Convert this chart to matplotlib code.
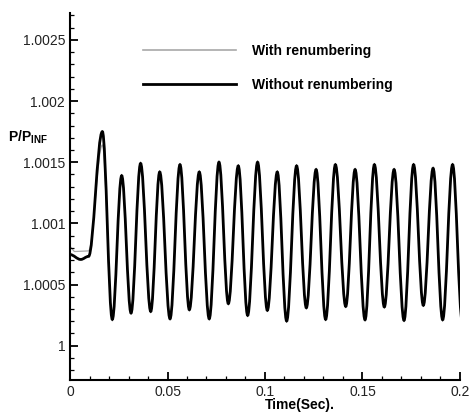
import numpy as np
import matplotlib
matplotlib.use('Agg')
import matplotlib.pyplot as plt
from matplotlib.path import Path
from matplotlib.patches import PathPatch
from matplotlib.lines import Line2D
from matplotlib.ticker import MultipleLocator, FormatStrFormatter

plt.rcParams['font.family'] = ['Liberation Sans', 'DejaVu Sans']
plt.rcParams['mathtext.fontset'] = 'custom'
plt.rcParams['mathtext.bf'] = 'Liberation Sans:bold'
plt.rcParams['mathtext.rm'] = 'Liberation Sans'

# turning points (time, P/Pinf)
t_start_black = [0.0, 0.0055, 0.0095]
p_start_black = [1.000745, 1.000705, 1.000730]
t_start_gray = [0.0, 0.0025, 0.0095]
p_start_gray = [1.000807, 1.000770, 1.000775]

t_osc = [0.0166, 0.0217, 0.0265, 0.0313, 0.0362, 0.0414, 0.0460, 0.0513,
         0.0564, 0.0612, 0.0663, 0.0714, 0.0764, 0.0812, 0.0863, 0.0911,
         0.0962, 0.1012, 0.1063, 0.1111, 0.1162, 0.1212, 0.1262, 0.1311,
         0.1361, 0.1414, 0.1462, 0.1513, 0.1561, 0.1612, 0.1662, 0.1713,
         0.1762, 0.1812, 0.1862, 0.1911, 0.1962, 0.2012]
p_osc_black = [1.00175, 1.000215, 1.00139, 1.000267, 1.00149, 1.000280, 1.00142, 1.000220,
               1.00148, 1.000294, 1.00142, 1.000220, 1.00150, 1.000344, 1.00147, 1.000248,
               1.00150, 1.000289, 1.00142, 1.000202, 1.00147, 1.000310, 1.00144, 1.000215,
               1.00148, 1.000321, 1.00144, 1.000212, 1.00148, 1.000317, 1.00144, 1.000207,
               1.00148, 1.000330, 1.00145, 1.000212, 1.00148, 1.000200]
p_osc_gray = [1.00164, 1.000225, 1.00137, 1.000277, 1.00147, 1.000290, 1.00140, 1.000230,
              1.00146, 1.000304, 1.00140, 1.000230, 1.00148, 1.000354, 1.00145, 1.000258,
              1.00148, 1.000299, 1.00140, 1.000212, 1.00145, 1.000320, 1.00142, 1.000225,
              1.00146, 1.000331, 1.00142, 1.000222, 1.00146, 1.000327, 1.00142, 1.000217,
              1.00146, 1.000340, 1.00143, 1.000222, 1.00146, 1.000210]

labels = ['With renumbering', 'Without renumbering']


def smooth_path(ts, ps):
    # cubic bezier between turning points, flat tangent at each one
    verts = [(ts[0], ps[0])]
    codes = [Path.MOVETO]
    for i in range(1, len(ts)):
        h = ts[i] - ts[i - 1]
        verts += [(ts[i - 1] + 0.363 * h, ps[i - 1]), (ts[i] - 0.363 * h, ps[i]), (ts[i], ps[i])]
        codes += [Path.CURVE4] * 3
    return Path(verts, codes)


fig = plt.figure(figsize=(4.73, 4.13), dpi=100)
ax = fig.add_axes([0.148, 0.080, 0.8245, 0.8886])

gray = PathPatch(smooth_path(t_start_gray + t_osc, p_start_gray + p_osc_gray),
                 facecolor='none', edgecolor='#a8a8a8', lw=0.9)
black = PathPatch(smooth_path(t_start_black + t_osc, p_start_black + p_osc_black),
                  facecolor='none', edgecolor='black', lw=2.0)
ax.add_patch(gray)
ax.add_patch(black)

ax.set_xlim(0, 0.2)
ax.set_ylim(0.99972, 1.00272)

for s in ['top', 'right']:
    ax.spines[s].set_visible(False)
for s in ['left', 'bottom']:
    ax.spines[s].set_linewidth(1.5)

ax.xaxis.set_major_locator(MultipleLocator(0.05))
ax.xaxis.set_minor_locator(MultipleLocator(0.01))
ax.yaxis.set_major_locator(MultipleLocator(0.0005))
ax.yaxis.set_minor_locator(MultipleLocator(0.0001))
ax.xaxis.set_major_formatter(FormatStrFormatter('%g'))
ax.yaxis.set_major_formatter(FormatStrFormatter('%g'))
ax.tick_params(which='both', direction='in', top=False, right=False, labelsize=10,
               labelcolor='#222222', pad=3.5)
ax.tick_params(which='major', length=6, width=1.3)
ax.tick_params(which='minor', length=3, width=0.9)

ax.set_xlabel('Time(Sec).', fontsize=10, fontweight='bold')
ax.xaxis.set_label_coords(0.59, -0.068)
ax.xaxis.label.set_va('center')
ax.set_ylabel(r'$\mathbf{P/P_{INF}}$', fontsize=10, rotation=0)
ax.yaxis.set_label_coords(-0.108, 0.66)
ax.yaxis.label.set_va('center')
ax.yaxis.label.set_ha('center')

handles = [Line2D([], [], color='#a8a8a8', lw=1.2), Line2D([], [], color='black', lw=2.0)]
leg = ax.legend(handles, labels, loc='center left', bbox_to_anchor=(0.186, 0.851),
                frameon=False, handlelength=6.7, handletextpad=1.2, labelspacing=1.45,
                borderpad=0, borderaxespad=0, prop={'weight': 'bold', 'size': 10})

fig.savefig('out.png', dpi=100)
